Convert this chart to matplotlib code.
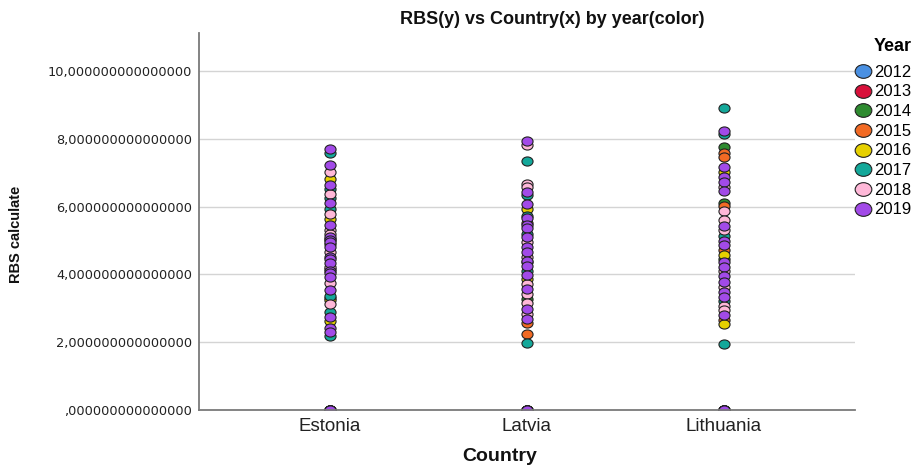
import matplotlib
matplotlib.use("Agg")
import matplotlib.pyplot as plt
from matplotlib.path import Path
from matplotlib.lines import Line2D
from matplotlib.ticker import FuncFormatter
import numpy as np

countries = ["Estonia", "Latvia", "Lithuania"]
years = [2012, 2013, 2014, 2015, 2016, 2017, 2018, 2019]
year_colors = ["#4A90E2", "#D8103A", "#2E8B30", "#F26A24",
               "#E6D000", "#14A89A", "#FFB8D8", "#A24AE8"]

# RBS calculate values, per country and year
estonia = {
    2012: [0.0],
    2013: [0.0],
    2014: [4.90, 3.30, 0.0],
    2015: [5.05, 4.15, 0.0],
    2016: [6.81, 5.62, 3.24, 2.63, 0.0],
    2017: [7.57, 6.51, 6.24, 5.92, 3.36, 2.90, 2.18, 0.0],
    2018: [7.01, 6.37, 5.78, 5.31, 5.20, 4.67, 4.21, 3.74, 3.13, 0.0],
    2019: [7.69, 7.23, 6.64, 6.10, 5.46, 5.11, 5.00, 4.95, 4.80, 4.52,
           4.45, 4.35, 4.10, 4.03, 3.91, 3.54, 2.73, 2.41, 2.31, 0.0],
}
latvia = {
    2012: [0.0],
    2013: [0.0],
    2014: [4.37, 3.27, 0.0],
    2015: [5.51, 2.56, 2.24, 0.0],
    2016: [5.93, 3.85, 0.0],
    2017: [7.35, 6.34, 5.72, 5.19, 4.11, 1.99, 0.0],
    2018: [7.83, 6.67, 6.57, 4.97, 4.52, 3.72, 3.42, 3.15, 2.83, 0.0],
    2019: [7.94, 6.44, 6.08, 5.65, 5.45, 5.36, 5.11, 4.82, 4.67, 4.40,
           4.25, 3.98, 3.56, 2.97, 2.68, 0.0],
}
lithuania = {
    2012: [0.0],
    2013: [0.0],
    2014: [7.77, 6.12, 4.45, 0.0],
    2015: [7.59, 7.45, 6.02, 4.72, 2.65, 0.0],
    2016: [7.03, 4.57, 2.53, 0.0],
    2017: [8.90, 8.14, 5.13, 3.22, 1.95, 0.0],
    2018: [6.57, 5.88, 5.60, 5.31, 4.11, 3.64, 3.07, 2.95, 0.0],
    2019: [8.24, 7.16, 6.88, 6.73, 6.47, 5.43, 4.99, 4.86, 4.37, 4.23,
           3.95, 3.78, 3.49, 3.34, 2.80, 0.0],
}
country_data = [estonia, latvia, lithuania]

# slightly flattened circle, like the SPSS markers
circle = Path.unit_circle()
oval = Path(circle.vertices * np.array([1.0, 0.82]), circle.codes)

fig = plt.figure(figsize=(9.2, 4.65), dpi=100)
ax = fig.add_axes([199 / 920, 1 - 410 / 465, (855 - 199) / 920, (410 - 33) / 465])

for year, color in zip(years, year_colors):
    for i, data in enumerate(country_data):
        vals = data[year]
        ax.scatter([i] * len(vals), vals, s=64, marker=oval, c=color,
                   edgecolors="#222222", linewidths=0.8, zorder=3, clip_on=True)

ax.set_xlim(-0.665, 2.665)
ax.set_ylim(0, 11.12)
ax.set_xticks(range(len(countries)))
ax.set_xticklabels(countries, fontsize=13.5, family="Liberation Sans", color="#222222")
ax.set_yticks([0, 2, 4, 6, 8, 10])
ax.yaxis.set_major_formatter(FuncFormatter(
    lambda v, p: f"{v:.15f}".replace(".", ",").lstrip("0") if v < 1 else f"{v:.15f}".replace(".", ",")))
for lab in ax.get_yticklabels():
    lab.set_family("DejaVu Sans")
    lab.set_fontsize(9.3)
    lab.set_color("#222222")
ax.tick_params(axis="both", length=0)
ax.tick_params(axis="x", pad=6)
ax.tick_params(axis="y", pad=5)

ax.grid(axis="y", color="#D4D4D4", linewidth=1.0, zorder=0)
ax.set_axisbelow(True)
for side in ["top", "right"]:
    ax.spines[side].set_visible(False)
for side in ["left", "bottom"]:
    ax.spines[side].set_color("#7A7A7A")
    ax.spines[side].set_linewidth(1.3)
ax.spines["bottom"].set_zorder(4)

fig.text(552 / 920, 1 - 20 / 465, "RBS(y) vs Country(x) by year(color)",
         ha="center", va="center", fontsize=13, fontweight="bold",
         family="Liberation Sans", color="#111111")
fig.text(500 / 920, 1 - 456 / 465, "Country", ha="center", va="center",
         fontsize=14, fontweight="bold", family="Liberation Sans", color="#111111")
fig.text(16 / 920, 1 - 234 / 465, "RBS calculate", ha="center", va="center",
         rotation=90, fontsize=10.5, fontweight="bold",
         family="Liberation Sans", color="#111111")

handles = [Line2D([], [], linestyle="none", marker=oval, markersize=12,
                  markerfacecolor=c, markeredgecolor="#222222", markeredgewidth=0.8)
           for c in year_colors]
leg = fig.legend(handles, [str(y) for y in years], title="Year",
                 loc="upper left", bbox_to_anchor=(855 / 920, 1 - 38 / 465),
                 frameon=False, handlelength=1.0, handletextpad=0.15,
                 labelspacing=0.28, borderaxespad=0, borderpad=0,
                 prop={"family": "Liberation Sans", "size": 12})
leg.get_title().set_fontweight("bold")
leg.get_title().set_fontsize(13)
leg.get_title().set_family("Liberation Sans")
leg._legend_box.align = "right"
leg._legend_box.sep = 7

fig.savefig("out.png", dpi=100)
